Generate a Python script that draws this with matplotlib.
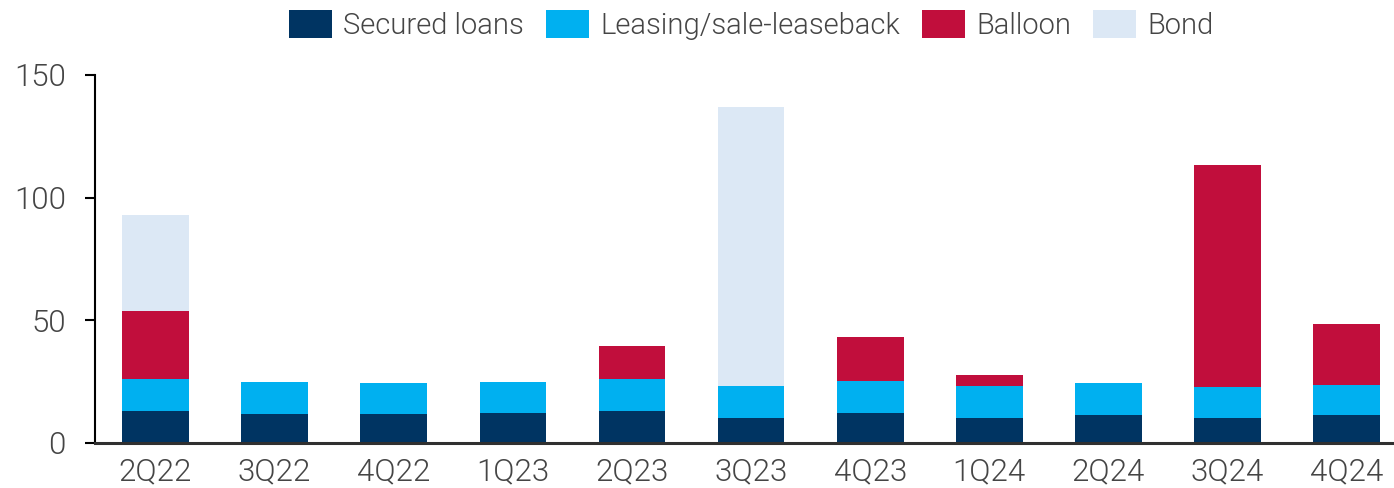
import matplotlib
matplotlib.use("Agg")
import matplotlib.pyplot as plt
from matplotlib.patches import Patch
import numpy as np

categories = ["2Q22", "3Q22", "4Q22", "1Q23", "2Q23", "3Q23", "4Q23", "1Q24", "2Q24", "3Q24", "4Q24"]
secured = [13.2, 12.0, 11.7, 12.1, 13.2, 10.3, 12.2, 10.3, 11.5, 10.0, 11.5]
leasing = [12.9, 12.9, 12.8, 12.9, 12.9, 12.9, 13.1, 12.9, 13.0, 12.8, 12.3]
balloon = [27.7, 0, 0, 0, 13.4, 0, 17.9, 4.5, 0, 90.4, 24.7]
bond = [39.1, 0, 0, 0, 0, 113.6, 0, 0, 0, 0, 0]
series_names = ["Secured loans", "Leasing/sale-leaseback", "Balloon", "Bond"]
colors = ["#003462", "#00B0F0", "#C10E3C", "#DCE8F5"]
yticks = [0, 50, 100, 150]

plt.rcParams['font.family'] = ['Roboto', 'DejaVu Sans']
plt.rcParams['font.weight'] = 300
text_color = "#454545"

fig = plt.figure(figsize=(13.94, 4.88), dpi=100)
ax = fig.add_axes([95/1394, 45/488, (1392-95)/1394, (443-75)/488])

x = np.arange(len(categories))
w = 0.56
bottom = np.zeros(len(categories))
for vals, c in zip([secured, leasing, balloon, bond], colors):
    v = np.array(vals, dtype=float)
    ax.bar(x, v, w, bottom=bottom, color=c, edgecolor='none', zorder=2)
    bottom += v

ax.set_xlim(-0.508, 10.38)
ax.set_ylim(0, 150)
ax.set_yticks(yticks)
ax.set_xticks(x)
ax.set_xticklabels(categories)
ax.tick_params(axis='y', direction='out', length=7, width=1.5, color='black',
               labelsize=22.5, labelcolor=text_color, pad=14)
ax.tick_params(axis='x', length=0, labelsize=22.5, labelcolor=text_color, pad=10)
for s in ['top', 'right']:
    ax.spines[s].set_visible(False)
ax.spines['left'].set_linewidth(1.5)
ax.spines['left'].set_color('black')
ax.spines['bottom'].set_linewidth(2.2)
ax.spines['bottom'].set_color('#303030')

handles = [Patch(facecolor=c, edgecolor='none') for c in colors]
fig.legend(handles, series_names, loc='center', bbox_to_anchor=(0.539, 0.948),
           ncol=4, frameon=False, prop={'family': ['Roboto', 'DejaVu Sans'], 'size': 21, 'weight': 300},
           handlelength=1.45, handleheight=1.1,
           handletextpad=0.39, columnspacing=0.77, labelcolor=text_color)

fig.savefig("out.png", dpi=100)
